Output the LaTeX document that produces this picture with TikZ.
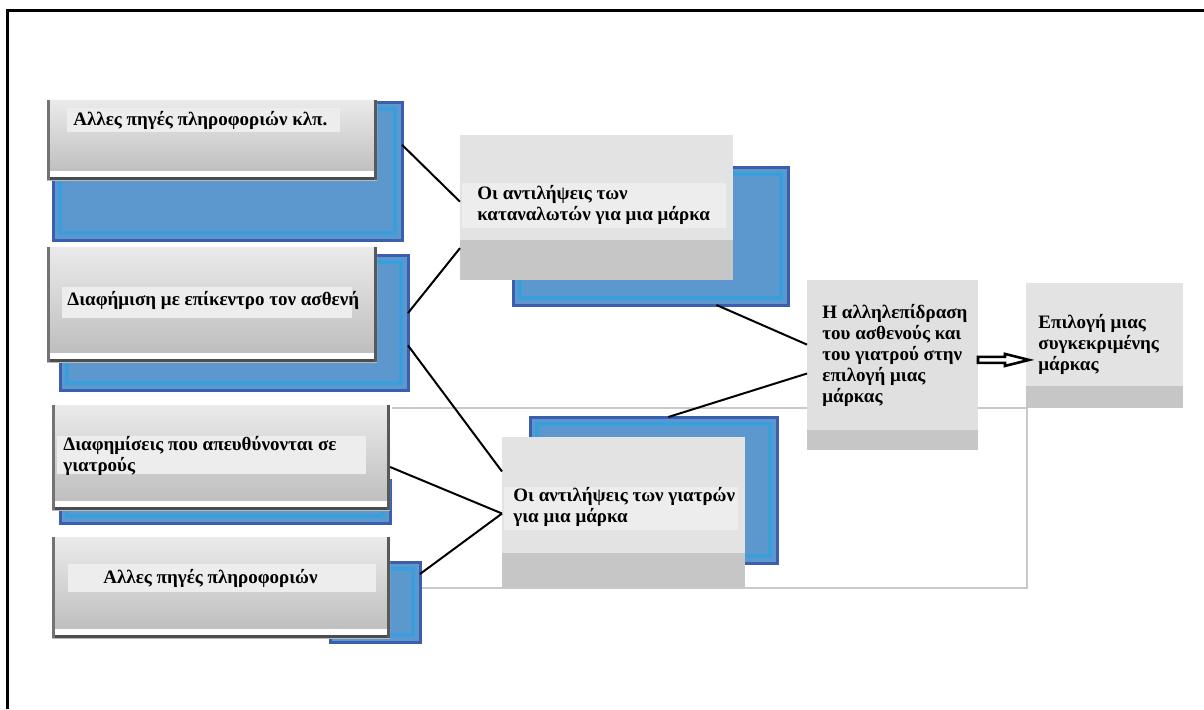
\documentclass[tikz,border=0pt]{standalone}
\usepackage{fontspec}
\setmainfont{Liberation Serif}
\usetikzlibrary{calc,arrows.meta}

\definecolor{bluedark}{HTML}{3B5FAE}
\definecolor{bluemid}{HTML}{5C97CE}
\definecolor{bluelight}{HTML}{3A9EDB}
\definecolor{cardgray}{HTML}{E3E3E3}
\definecolor{bandgray}{HTML}{C6C6C6}
\definecolor{hlgray}{HTML}{EDEDED}
\definecolor{framegray}{HTML}{C9C9C9}

\tikzset{
  panel/.style={inner sep=0pt, outer sep=0pt, anchor=north west},
  bluepanel/.style={panel, draw=bluedark, line width=1.5pt, fill=bluemid,
    path picture={
      \draw[bluelight, line width=1.6pt]
        ($(path picture bounding box.north west)+(7,7)$) rectangle
        ($(path picture bounding box.south east)+(-7,-7)$);
    }},
  srcbox/.style={panel, top color=black!8, bottom color=black!27,
    path picture={
      \fill[white] ($(path picture bounding box.south west)+(0,-9)$) rectangle
                   ($(path picture bounding box.south east)+(0,-3)$);
      \fill[black!70] ($(path picture bounding box.south west)+(0,-3)$) rectangle
                      (path picture bounding box.south east);
      \fill[black!55] (path picture bounding box.south west) rectangle
                      ($(path picture bounding box.north west)+(3,0)$);
      \fill[black!65] (path picture bounding box.south east) rectangle
                      ($(path picture bounding box.north east)+(-3,0)$);
    }},
  card/.style={panel, fill=cardgray,
    path picture={
      \fill[bandgray] ($(path picture bounding box.south west)+(0,-#1)$) rectangle
                      (path picture bounding box.south east);
    }},
  % anchored on the baseline of the last line of the label
  lbl/.style={inner sep=0pt, anchor=base west, align=left,
    font=\bfseries\fontsize{9.5}{10.5}\selectfont},
  link/.style={line width=1pt, black},
  framelink/.style={line width=1pt, framegray},
  blockarrow/.style={line width=1.3pt, black, fill=white, line join=miter},
}

\begin{document}
\begin{tikzpicture}[x=0.5pt,y=-0.5pt]
\useasboundingbox (0,0) rectangle (1204,709);
\fill[white] (0,0) rectangle (1204,709);

% outer frame (left and top edges)
\draw[line width=1.5pt] (7,709) -- (7,10) -- (1204,10);

% open frame linking the lower row to the choice box
\coordinate (fa) at (392,408);
\coordinate (fb) at (1027,408);
\coordinate (fc) at (1027,588);
\coordinate (fd) at (418,588);
\draw[framelink] (fa) -- (fb) -- (fc) -- (fd);

% blue backing panels
\node[bluepanel, minimum width=174.5pt, minimum height=69pt]   (a1b) at (53,102) {};
\node[bluepanel, minimum width=174pt,   minimum height=67.5pt] (a2b) at (60,255) {};
\node[bluepanel, minimum width=165pt,   minimum height=21.5pt] (b1b) at (60,480) {};
\node[bluepanel, minimum width=45pt,    minimum height=40pt]   (b2b) at (330,562) {};
\node[bluepanel, minimum width=137.5pt, minimum height=69pt]   (c1b) at (513,167) {};
\node[bluepanel, minimum width=123.5pt, minimum height=73pt]   (c2b) at (530,417) {};

% source boxes
\node[srcbox, minimum width=165pt, minimum height=40pt]   (a1) at (47,100) {};
\node[srcbox, minimum width=165pt, minimum height=57.5pt] (a2) at (47,247) {};
\node[srcbox, minimum width=169pt, minimum height=52.5pt] (b1) at (52,405) {};
\node[srcbox, minimum width=169pt, minimum height=50.5pt] (b2) at (52,537) {};

% perception, interaction and choice boxes
\node[card=40, minimum width=136.5pt, minimum height=72.5pt] (c1) at (460,135) {};
\node[card=34, minimum width=121.5pt, minimum height=75pt]   (c2) at (502,437) {};
\node[card=20, minimum width=85.5pt,  minimum height=85pt, fill=black!12] (d) at (807,280) {};
\node[card=22, minimum width=78.5pt,  minimum height=62.5pt, fill=black!11] (e) at (1026,283) {};

% light bands behind the labels
\fill[hlgray] (67,108) rectangle (340,132);
\fill[hlgray] (62,287) rectangle (352,318);
\fill[hlgray] (57,436) rectangle (366,474);
\fill[hlgray] (68,564) rectangle (376,592);
\fill[hlgray] (462,183) rectangle (726,228);
\fill[hlgray] (504,487) rectangle (738,530);

% labels
\node[lbl] (ta1) at (73,125)  {Αλλες πηγές πληροφοριών κλπ.};
\node[lbl] (ta2) at (67,305)  {Διαφήμιση με επίκεντρο τον ασθενή};
\node[lbl] (tb1) at (63,471)  {Διαφημίσεις που απευθύνονται σε\\γιατρούς};
\node[lbl] (tb2) at (103,583) {Αλλες πηγές πληροφοριών};
\node[lbl] (tc1) at (477,220) {Οι αντιλήψεις των\\καταναλωτών για μια μάρκα};
\node[lbl] (tc2) at (513,522) {Οι αντιλήψεις των γιατρών\\για μια μάρκα};
\node[lbl] (td)  at (822,402) {Η αλληλεπίδραση\\του ασθενούς και\\του γιατρού στην\\επιλογή μιας\\μάρκας};
\node[lbl] (te)  at (1038,370) {Επιλογή μιας\\συγκεκριμένης\\μάρκας};

% connectors
\draw[link] ($(a1b.north east)!0.31!(a1b.south east)$) -- ($(c1.north west)!0.46!(c1.south west)$);
\draw[link] ($(a2b.north east)!0.43!(a2b.south east)$) -- ($(c1.north west)!0.78!(c1.south west)$);
\draw[link] ($(a2b.north east)!0.67!(a2b.south east)$) -- ($(c2.north west)!0.23!(c2.south west)$);
\draw[link] ($(b1.north east)!0.59!(b1.south east)$)   -- ($(c2.north west)!0.51!(c2.south west)$);
\draw[link] ($(b2b.north east)!0.15!(b2b.south east)$) -- ($(c2.north west)!0.51!(c2.south west)$);
\draw[link] ($(c1b.south west)!0.74!(c1b.south east)$) -- ($(d.north west)!0.38!(d.south west)$);
\draw[link] ($(c2b.north west)!0.56!(c2b.north east)$) -- ($(d.north west)!0.55!(d.south west)$);

% hollow block arrow to the final choice
\coordinate (arr) at ($(d.north east)!0.47!(d.south east)$);
\coordinate (tip) at ($(arr -| e.west)+(3,0)$);
\draw[blockarrow] ($(arr)+(0,-3)$) -- ($(tip)+(-24,-3)$) -- ($(tip)+(-24,-6)$)
  -- (tip) -- ($(tip)+(-24,6)$) -- ($(tip)+(-24,3)$) -- ($(arr)+(0,3)$) -- cycle;
\end{tikzpicture}
\end{document}
